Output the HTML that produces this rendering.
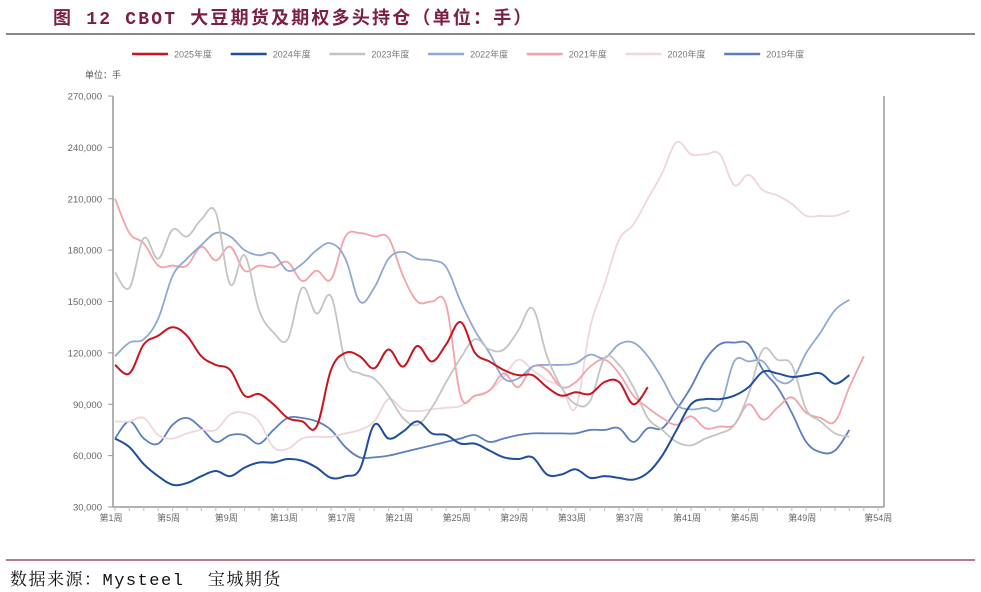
<!DOCTYPE html>
<html><head><meta charset="utf-8">
<style>
body{margin:0;background:#fff;width:981px;height:592px;overflow:hidden;font-family:"Liberation Sans","Noto Sans CJK SC",sans-serif;}
#title{position:absolute;left:53px;top:4px;font-size:18px;font-weight:bold;color:#7a1f45;letter-spacing:2.2px;white-space:nowrap;font-family:"Liberation Mono","Noto Sans CJK SC",sans-serif;}
#src{position:absolute;left:10px;top:565px;font-size:17px;color:#111;white-space:nowrap;letter-spacing:1.5px;font-family:"Liberation Mono","Noto Serif CJK SC",serif;}
</style></head><body>
<div id="title">图 12 CBOT 大豆期货及期权多头持仓（单位：手）</div>
<div id="src">数据来源：Mysteel &nbsp;宝城期货</div>
<svg id="chart" width="981" height="592" style="position:absolute;left:0;top:0">
<line x1="6" y1="34" x2="975" y2="34" stroke="#888" stroke-width="2"/>
<line x1="6" y1="560" x2="975" y2="560" stroke="#8a2a4a" stroke-width="1.2"/>
<text x="85" y="78" font-size="9" fill="#555">单位：手</text>
</svg>
<script>
const weeks=[];for(let i=1;i<=54;i++)weeks.push(i);
const xTickWeeks=[1,5,9,13,17,21,25,29,33,37,41,45,49,54];
const yTicks=[30000,60000,90000,120000,150000,180000,210000,240000,270000];
const seriesNames=["2025年度","2024年度","2023年度","2022年度","2021年度","2020年度","2019年度"];
const colors=["#c8151e","#1f4e9c","#c4c4c4","#8fa8d4","#f4a2aa","#efd6d8","#5b7fbf"];
const s2025=[113,108,125,130,135,130,118,113,110,95,96,90,82,80,77,110,120,118,111,122,112,124,115,125,138,120,115,110,107,107,100,95,97,96,103,103,90,100];
const s2024=[70,65,55,48,43,44,48,51,48,53,56,56,58,57,53,47,48,52,78,70,74,80,73,72,67,67,63,59,58,59,49,49,52,47,48,47,46,50,60,75,90,93,93,95,100,109,108,106,107,108,102,107];
const s2023=[167,158,187,175,192,188,198,202,160,177,145,132,128,158,143,153,115,108,105,95,82,78,88,103,117,128,122,122,133,146,118,100,90,92,117,113,100,82,75,68,66,70,73,78,96,122,116,113,87,80,73,71];
const s2022=[118,126,128,140,165,175,183,190,188,180,177,178,168,172,180,184,175,150,158,175,179,175,174,170,150,133,120,105,105,112,113,113,114,119,117,125,126,118,105,90,87,88,88,115,115,115,104,104,120,132,145,151];
const s2021=[210,190,184,171,171,171,182,174,182,168,171,170,173,162,168,163,188,190,188,187,165,150,150,148,95,95,98,108,100,112,110,100,103,112,116,108,95,88,82,78,83,76,77,78,90,81,88,94,85,82,80,100,118];
const s2020=[80,80,82,72,70,73,75,75,84,85,80,65,64,70,71,71,73,75,80,93,87,86,87,88,89,95,98,106,116,110,104,100,88,135,160,186,195,210,225,243,236,236,236,218,224,215,212,207,200,200,200,203];
const s2019=[70,80,70,67,78,82,76,68,72,72,67,75,82,82,80,75,65,59,59,60,62,64,66,68,70,72,68,70,72,73,73,73,73,75,75,76,68,76,76,87,100,116,125,126,125,110,100,85,68,62,63,75];
const allSeries=[s2025,s2024,s2023,s2022,s2021,s2020,s2019];
const X0=115,DX=14.4,Y0=507,YPX=51.37;
function xs(w){return X0+(w-1)*DX;}
function ys(v){return Y0-(v-30000)/30000*YPX;}
const svg=document.getElementById('chart');const NS="http://www.w3.org/2000/svg";
function mk(t,a){const e=document.createElementNS(NS,t);for(const k in a)e.setAttribute(k,a[k]);svg.appendChild(e);return e;}
let e=mk('line',{x1:113,y1:96,x2:113,y2:507,stroke:'#999','stroke-width':1.5});


e=mk('line',{x1:884,y1:96,x2:884,y2:507,stroke:'#999','stroke-width':1.5});


e=mk('line',{x1:113,y1:507,x2:884,y2:507,stroke:'#999','stroke-width':1.5});


yTicks.forEach(v=>{const y=ys(v);
 mk('line',{x1:108,y1:y,x2:113,y2:y,stroke:'#999'});
 const t=mk('text',{x:102,y:y+3.5,'font-size':9.5,fill:'#666','text-anchor':'end'});t.textContent=v.toLocaleString('en-US');
 
 
});
weeks.forEach(w=>{const x=xs(w);if(x<=884)mk('line',{x1:x,y1:507,x2:x,y2:511,stroke:'#bbb'});});
xTickWeeks.forEach(w=>{const t=mk('text',{x:xs(w)+(w==54?0:-4),y:521,'font-size':9,fill:'#666','text-anchor':'middle'});t.textContent='第'+w+'周';
 
 
});
function path(pts){let d='M'+pts[0][0]+','+pts[0][1];
 for(let i=0;i<pts.length-1;i++){const p0=pts[i-1]||pts[i],p1=pts[i],p2=pts[i+1],p3=pts[i+2]||p2;const k=0.18;
  d+=' C'+(p1[0]+(p2[0]-p0[0])*k)+','+(p1[1]+(p2[1]-p0[1])*k)+' '+(p2[0]-(p3[0]-p1[0])*k)+','+(p2[1]-(p3[1]-p1[1])*k)+' '+p2[0]+','+p2[1];}
 return d;}
for(let s=allSeries.length-1;s>=0;s--){
 const pts=allSeries[s].map((v,i)=>[xs(i+1),ys(v*1000)]);
 const p=mk('path',{d:path(pts),fill:'none',stroke:colors[s],'stroke-width':s==0||s==1?2:1.8});
 
 
}
seriesNames.forEach((n,i)=>{const x=132+i*98.7;
 const l=mk('line',{x1:x,y1:54,x2:x+36,y2:54,stroke:colors[i],'stroke-width':2.5});
 
 
 const t=mk('text',{x:x+42,y:57.5,'font-size':9,fill:'#777'});t.textContent=n;
 
 
});
</script>
</body></html>
